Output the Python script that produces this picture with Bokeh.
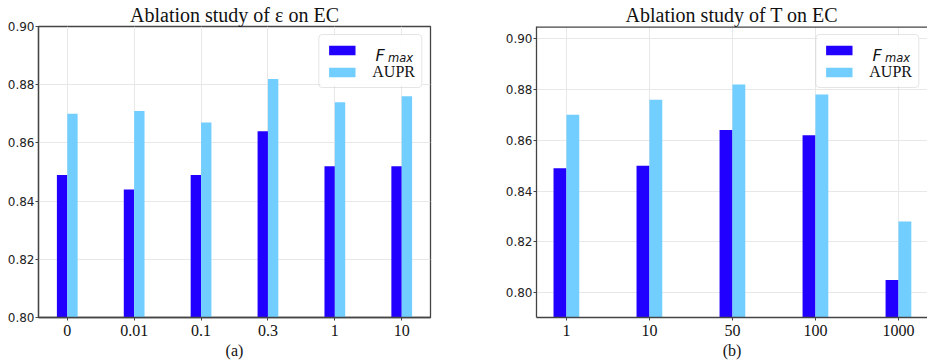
import numpy as np
from bokeh.plotting import figure
from bokeh.models import (ColumnDataSource, FixedTicker, Legend, LegendItem,
                          Label, Range1d, Span, BoxAnnotation)
from bokeh.layouts import row
from bokeh.embed import file_html
from bokeh.resources import INLINE

# ---------------- data ----------------
eps_labels = ["0", "0.01", "0.1", "0.3", "1", "10"]
eps_fmax = [0.849, 0.844, 0.849, 0.864, 0.852, 0.852]
eps_aupr = [0.870, 0.871, 0.867, 0.882, 0.874, 0.876]

t_labels = ["1", "10", "50", "100", "1000"]
t_fmax = [0.849, 0.850, 0.864, 0.862, 0.805]
t_aupr = [0.870, 0.876, 0.882, 0.878, 0.828]

y_ticks = [0.80, 0.82, 0.84, 0.86, 0.88, 0.90]

# ---------------- style ----------------
C_FMAX = "#2200FF"
C_AUPR = "#72CEFF"
SPINE = "#444444"
GRID = "#e8e8e8"
SERIF = "Liberation Serif"
SANS = "DejaVu Sans"
H = 364
PAGE_TOP = 0
BT = 25
FRAME_H = 292


def panel(labels, fmax, aupr, title, sub, width, page_left, bl, br, xs, xe, yr,
          show_right_spine=True):
    n = len(labels)
    bb = H - BT - FRAME_H
    p = figure(width=width, height=H, output_backend="svg", toolbar_location=None,
               x_range=Range1d(xs, xe), y_range=Range1d(*yr),
               min_border_left=bl, min_border_right=br,
               min_border_top=BT, min_border_bottom=bb)
    w = 0.155
    idx = np.arange(n)
    src = ColumnDataSource(dict(xf=idx - w / 2, xa=idx + w / 2, fmax=fmax, aupr=aupr))
    r1 = p.vbar(x="xf", top="fmax", bottom=0, width=w, source=src,
                fill_color=C_FMAX, line_color=None)
    r2 = p.vbar(x="xa", top="aupr", bottom=0, width=w, source=src,
                fill_color=C_AUPR, line_color=None)

    p.title.text = title
    p.title.text_font = SERIF
    p.title.text_font_size = "20px"
    p.title.text_font_style = "normal"
    p.title.align = "center"
    p.title.standoff = 2
    p.title.offset = 0
    p.title.text_color = "#111111"

    # axes
    p.xaxis.ticker = FixedTicker(ticks=list(range(n)))
    p.xaxis.major_label_overrides = {i: l for i, l in enumerate(labels)}
    p.xaxis.major_label_text_font = SERIF
    p.xaxis.major_label_text_font_size = "16px"
    p.xaxis.major_label_text_color = "#111111"
    p.xaxis.axis_label = sub
    p.xaxis.axis_label_text_font = SERIF
    p.xaxis.axis_label_text_font_size = "16px"
    p.xaxis.axis_label_text_font_style = "normal"
    p.xaxis.axis_label_text_color = "#111111"
    p.xaxis.axis_label_standoff = 3
    p.xaxis.major_label_standoff = 4

    p.yaxis.ticker = FixedTicker(ticks=y_ticks)
    p.yaxis.major_label_overrides = {t: f"{t:.2f}" for t in y_ticks}
    p.yaxis.major_label_text_font = SANS
    p.yaxis.major_label_text_font_size = "12px"
    p.yaxis.major_label_text_color = "#222222"
    p.yaxis.major_label_standoff = 1

    for ax in (p.xaxis, p.yaxis):
        ax.axis_line_color = SPINE
        ax.axis_line_width = 1.3
        ax.major_tick_line_color = SPINE
        ax.major_tick_out = 3
        ax.major_tick_in = 0
        ax.minor_tick_line_color = None

    if show_right_spine:
        p.outline_line_color = SPINE
        p.outline_line_width = 1.3
    else:
        p.outline_line_color = None
        p.add_layout(Span(location=yr[1], dimension="width", line_color=SPINE,
                          line_width=2.6, level="overlay"))
    p.xgrid.ticker = FixedTicker(ticks=list(range(n)))
    p.ygrid.ticker = FixedTicker(ticks=y_ticks)
    for g in (p.xgrid, p.ygrid):
        g.grid_line_color = GRID
        g.grid_line_width = 1

    fl = page_left + bl
    fr = page_left + width - br
    ft = PAGE_TOP + BT
    fb = ft + FRAME_H

    def to_data(px, py):
        return (xs + (px - fl) / (fr - fl) * (xe - xs),
                yr[1] - (py - ft) / (fb - ft) * (yr[1] - yr[0]))

    # white backing of the legend box (legend itself is transparent so the
    # F_max text drawn below shows through)
    bx0, by0 = to_data(fr - 110, ft + 8)
    bx1, by1 = to_data(fr - 8, ft + 60)
    p.add_layout(BoxAnnotation(left=bx0, right=bx1, top=by0, bottom=by1,
                               fill_color="white", fill_alpha=0.9, line_color=None,
                               level="annotation"))

    # legend
    leg = Legend(items=[LegendItem(label=" ", renderers=[r1]),
                        LegendItem(label="AUPR", renderers=[r2])],
                 location="top_right", margin=8, padding=6, spacing=4,
                 glyph_width=33, glyph_height=12, label_height=18,
                 label_standoff=14, label_text_font=SERIF,
                 label_text_font_size="16px", label_text_color="#111111",
                 border_line_color="#cccccc", border_line_width=1,
                 background_fill_alpha=0.0)
    if "border_radius" in Legend.properties():
        leg.border_radius = 4
    p.add_layout(leg, "center")

    # F_max legend text (italic F with subscript), placed at legend label slot
    fx, fy = to_data(fr - 55, 54)
    lab_f = Label(x=fx, y=fy, text="F", text_font=SANS, text_font_style="italic",
                  text_font_size="16px", text_baseline="alphabetic",
                  text_color="#111111", level="overlay")
    mx, my = to_data(fr - 42.5, 57)
    lab_m = Label(x=mx, y=my, text="max", text_font=SANS, text_font_style="italic",
                  text_font_size="11.5px", text_baseline="alphabetic",
                  text_color="#111111", level="overlay")
    p.add_layout(lab_f)
    p.add_layout(lab_m)
    return p


p1 = panel(eps_labels, eps_fmax, eps_aupr, "Ablation study of \u03b5 on EC", "(a)",
           470, 0, 38, 40, -0.43, 5.43, (0.80, 0.90))
p2 = panel(t_labels, t_fmax, t_aupr, "Ablation study of T on EC", "(b)",
           457, 470, 66, 0, -0.36, 4.35, (0.7902, 0.9048), show_right_spine=False)

layout = row(p1, p2)
open("out.html", "w").write(file_html(layout, INLINE))
